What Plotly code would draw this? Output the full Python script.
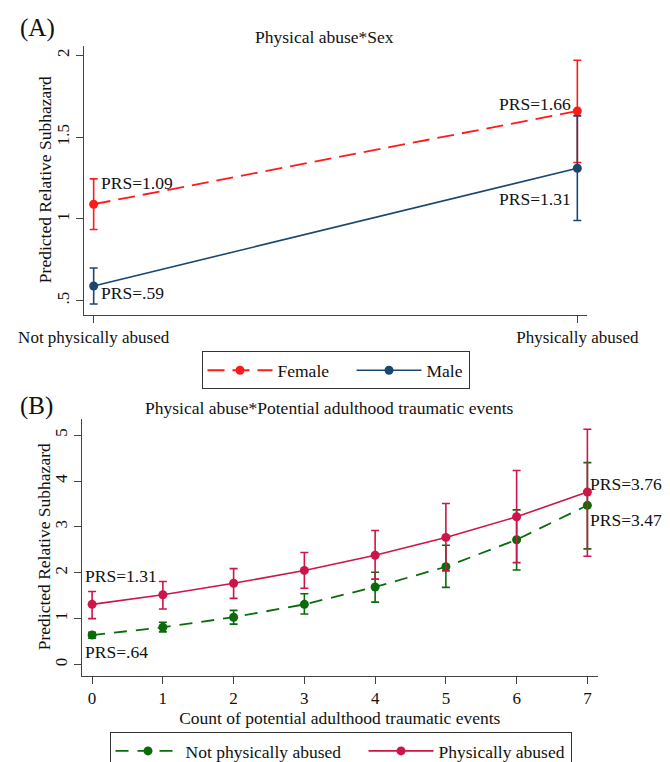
import plotly.graph_objects as go

W, H = 670, 762
FONT = "Liberation Serif, Times New Roman, serif"

# ---------------- Panel A data ----------------
a_x = [0, 1]
a_xlabels = ["Not physically abused", "Physically abused"]
female_est = [1.09, 1.66]
female_lo = [0.935, 1.345]
female_hi = [1.245, 1.97]
male_est = [0.59, 1.31]
male_lo = [0.48, 0.99]
male_hi = [0.70, 1.63]
a_yticks = [0.5, 1, 1.5, 2]
a_yticklabels = [".5", "1", "1.5", "2"]

# ---------------- Panel B data ----------------
b_x = [0, 1, 2, 3, 4, 5, 6, 7]
notpa_est = [0.64, 0.81, 1.03, 1.31, 1.69, 2.13, 2.72, 3.47]
notpa_lo = [0.57, 0.71, 0.88, 1.10, 1.36, 1.68, 2.06, 2.52]
notpa_hi = [0.70, 0.92, 1.18, 1.54, 2.01, 2.60, 3.37, 4.40]
pa_est = [1.31, 1.52, 1.77, 2.05, 2.38, 2.77, 3.22, 3.76]
pa_lo = [1.00, 1.21, 1.44, 1.66, 1.86, 2.04, 2.22, 2.36]
pa_hi = [1.59, 1.81, 2.09, 2.44, 2.92, 3.51, 4.23, 5.13]
b_yticks = [0, 1, 2, 3, 4, 5]

RED = "#FF1A1A"
NAVY = "#1A476F"
GREEN = "#0A6B0A"
CRIM = "#CC1548"

TXT = 17.5
PAD = "\u00a0" * 4


def err(est, lo, hi, color):
    return dict(type="data", symmetric=False,
                array=[h - e for h, e in zip(hi, est)],
                arrayminus=[e - l for e, l in zip(est, lo)],
                color=color, thickness=1.6, width=4)


fig = go.Figure()

fig.add_trace(go.Scatter(x=a_x, y=female_est, name="Female" + PAD, mode="lines+markers",
                         line=dict(color=RED, width=1.8, dash="17px,8px"),
                         marker=dict(color=RED, size=9),
                         error_y=err(female_est, female_lo, female_hi, RED),
                         xaxis="x", yaxis="y", legend="legend"))
fig.add_trace(go.Scatter(x=a_x, y=male_est, name="Male", mode="lines+markers",
                         line=dict(color=NAVY, width=1.6),
                         marker=dict(color=NAVY, size=9),
                         error_y=err(male_est, male_lo, male_hi, NAVY),
                         xaxis="x", yaxis="y", legend="legend"))

fig.add_trace(go.Scatter(x=b_x, y=notpa_est, name="Not physically abused" + PAD, mode="lines+markers",
                         line=dict(color=GREEN, width=1.8, dash="13px,9px"),
                         marker=dict(color=GREEN, size=9),
                         error_y=err(notpa_est, notpa_lo, notpa_hi, GREEN),
                         xaxis="x2", yaxis="y2", legend="legend2"))
fig.add_trace(go.Scatter(x=b_x, y=pa_est, name="Physically abused", mode="lines+markers",
                         line=dict(color=CRIM, width=1.6),
                         marker=dict(color=CRIM, size=9),
                         error_y=err(pa_est, pa_lo, pa_hi, CRIM),
                         xaxis="x2", yaxis="y2", legend="legend2"))

axis_common = dict(showline=True, linecolor="#444", linewidth=1, ticks="outside",
                   ticklen=7, tickcolor="#444", showgrid=False, zeroline=False,
                   automargin=False,
                   tickfont=dict(family=FONT, size=17, color="#111"))

fig.update_layout(
    width=W, height=H,
    margin=dict(l=0, r=0, t=0, b=0),
    paper_bgcolor="white", plot_bgcolor="white",
    font=dict(family=FONT, size=TXT, color="#111"),
    xaxis=dict(domain=[76 / W, 579 / W], range=[-0.02, 1.02],
               tickvals=a_x, ticktext=a_xlabels, anchor="y", **axis_common),
    yaxis=dict(domain=[1 - 310 / H, 1 - 38 / H], range=[0.414, 2.06],
               tickvals=a_yticks, ticktext=a_yticklabels, tickangle=-90, anchor="x",
               **axis_common),
    xaxis2=dict(domain=[73.5 / W, 590 / W], range=[-0.15, 7.15],
                tickvals=b_x, anchor="y2",
                title=dict(text="Count of potential adulthood traumatic events", standoff=0,
                           font=dict(family=FONT, size=TXT)),
                **axis_common),
    yaxis2=dict(domain=[1 - 675 / H, 1 - 415 / H], range=[-0.25, 5.36],
                tickvals=b_yticks, tickangle=-90, anchor="x2",
                **axis_common),
    legend=dict(orientation="h", x=327.5 / W, xanchor="center", y=1 - 347 / H, yanchor="top",
                bordercolor="#333", borderwidth=1, bgcolor="white",
                font=dict(family=FONT, size=TXT), itemwidth=65),
    legend2=dict(orientation="h", x=332.5 / W, xanchor="center", y=1 - 732 / H, yanchor="top",
                 bordercolor="#333", borderwidth=1, bgcolor="white",
                 font=dict(family=FONT, size=TXT), itemwidth=65),
    showlegend=True,
)

ann = []
# panel labels and titles
ann.append(dict(text="(A)", x=10 / W, y=1 - 20 / H, xref="paper", yref="paper",
                xanchor="left", yanchor="middle", showarrow=False, font=dict(size=25)))
ann.append(dict(text="(B)", x=10 / W, y=1 - 402 / H, xref="paper", yref="paper",
                xanchor="left", yanchor="middle", showarrow=False, font=dict(size=25)))
ann.append(dict(text="Physical abuse*Sex", x=316 / W, y=1 - 29 / H, xref="paper", yref="paper",
                xanchor="center", yanchor="middle", showarrow=False, font=dict(size=TXT)))
ann.append(dict(text="Physical abuse*Potential adulthood traumatic events", x=321 / W, y=1 - 404 / H,
                xref="paper", yref="paper", xanchor="center", yanchor="middle",
                showarrow=False, font=dict(size=TXT)))
# y-axis titles
ann.append(dict(text="Predicted Relative Subhazard", x=37 / W, y=1 - 174 / H, xref="paper",
                yref="paper", xanchor="center", yanchor="middle", textangle=-90,
                showarrow=False, font=dict(size=TXT)))
ann.append(dict(text="Predicted Relative Subhazard", x=36 / W, y=1 - 545 / H, xref="paper",
                yref="paper", xanchor="center", yanchor="middle", textangle=-90,
                showarrow=False, font=dict(size=TXT)))

# value labels panel A
ann.append(dict(text="PRS=%.2f" % female_est[0], x=a_x[0], y=female_est[0], xref="x", yref="y",
                xanchor="left", yanchor="middle", xshift=5, yshift=21, showarrow=False))
ann.append(dict(text="PRS=.59", x=a_x[0], y=male_est[0], xref="x", yref="y",
                xanchor="left", yanchor="middle", xshift=5, yshift=-7, showarrow=False))
ann.append(dict(text="PRS=%.2f" % female_est[1], x=a_x[1], y=female_est[1], xref="x", yref="y",
                xanchor="right", yanchor="middle", xshift=-4, yshift=7, showarrow=False))
ann.append(dict(text="PRS=%.2f" % male_est[1], x=a_x[1], y=male_est[1], xref="x", yref="y",
                xanchor="right", yanchor="middle", xshift=-4, yshift=-31, showarrow=False))

# value labels panel B
ann.append(dict(text="PRS=%.2f" % pa_est[0], x=b_x[0], y=pa_est[0], xref="x2", yref="y2",
                xanchor="left", yanchor="middle", xshift=-9, yshift=28, showarrow=False))
ann.append(dict(text="PRS=.64", x=b_x[0], y=notpa_est[0], xref="x2", yref="y2",
                xanchor="left", yanchor="middle", xshift=-9, yshift=-17, showarrow=False))
ann.append(dict(text="PRS=%.2f" % pa_est[-1], x=b_x[-1], y=pa_est[-1], xref="x2", yref="y2",
                xanchor="left", yanchor="middle", xshift=1, yshift=8, showarrow=False))
ann.append(dict(text="PRS=%.2f" % notpa_est[-1], x=b_x[-1], y=notpa_est[-1], xref="x2", yref="y2",
                xanchor="left", yanchor="middle", xshift=1, yshift=-15, showarrow=False))

fig.update_layout(annotations=ann)

fig.write_html("out.html")
